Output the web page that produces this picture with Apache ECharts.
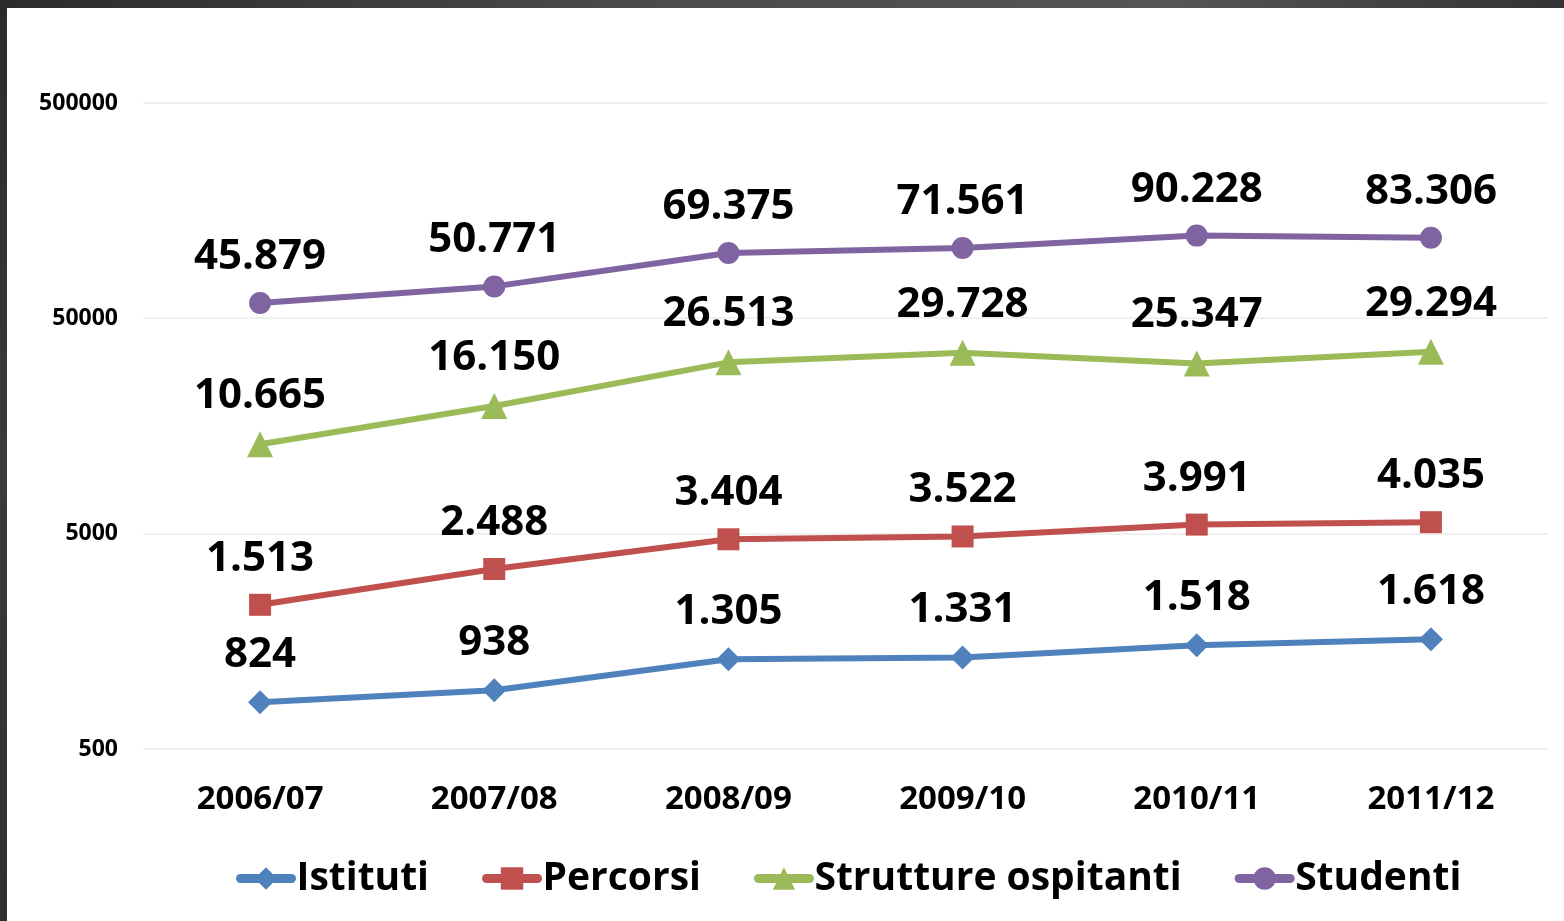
<!DOCTYPE html>
<html>
<head>
<meta charset="utf-8">
<script src="https://cdn.jsdelivr.net/npm/echarts@6/dist/echarts.min.js"></script>
<style>
html,body{margin:0;padding:0;background:#fff;}
#chart{position:absolute;left:0;top:0;width:1564px;height:921px;}
#topbar{position:absolute;left:0;top:0;width:1564px;height:8px;background:linear-gradient(90deg,#2b2b2b 0%,#4a4a4a 40%,#555 75%,#333 100%);z-index:2;}
#leftbar{position:absolute;left:0;top:0;width:7px;height:921px;background:linear-gradient(180deg,#2b2b2b 0%,#3a3a3a 50%,#2f2f2f 100%);z-index:2;}
</style>
</head>
<body>
<div id="chart"></div>
<div id="topbar"></div>
<div id="leftbar"></div>
<script>
const categories = ['2006/07','2007/08','2008/09','2009/10','2010/11','2011/12'];
const seriesNames = ['Istituti','Percorsi','Strutture ospitanti','Studenti'];
const istituti = [824, 938, 1305, 1331, 1518, 1618];
const percorsi = [1513, 2488, 3404, 3522, 3991, 4035];
const strutture = [10665, 16150, 26513, 29728, 25347, 29294];
const studenti = [45879, 50771, 69375, 71561, 90228, 83306];
const yTickLabels = [500, 5000, 50000, 500000];

const colors = ['#4f81bd','#c0504d','#9bbb59','#8064a2'];
const symbols = ['diamond','rect','triangle','circle'];
const symbolSizes = [24, 22, 26, 22];
const dataArrays = [istituti, percorsi, strutture, studenti];

function fmt(v){ return String(v).replace(/\B(?=(\d{3})+(?!\d))/g, '.'); }
const FONT = '"Open Sans", "DejaVu Sans", sans-serif';

const chart = echarts.init(document.getElementById('chart'));
chart.setOption({
  animation: false,
  color: colors,
  grid: {left: 143, right: 16, top: 103, bottom: 172, containLabel: false},
  legend: {
    bottom: 23,
    left: 236,
    padding: 0,
    itemWidth: 51,
    itemHeight: 28,
    itemGap: 53,
    lineStyle: {width: 9, cap: 'round'},
    textStyle: {fontFamily: FONT, fontWeight: 'bold', fontSize: 39, color: '#000'},
    data: seriesNames
  },
  xAxis: {
    type: 'category',
    data: categories,
    boundaryGap: true,
    axisLine: {show: false},
    axisTick: {show: false},
    axisLabel: {fontFamily: FONT, fontWeight: 'bold', fontSize: 33, color: '#000', margin: 34}
  },
  yAxis: {
    type: 'log',
    logBase: 10,
    min: 500,
    max: 500000,
    interval: 1,
    axisLine: {show: false},
    axisTick: {show: false},
    splitLine: {lineStyle: {color: '#f0f0f0', width: 2}},
    axisLabel: {
      fontFamily: FONT, fontWeight: 'bold', fontSize: 23, color: '#000', margin: 25,
      formatter: function(v){
        let best = yTickLabels[0];
        yTickLabels.forEach(t => { if (Math.abs(Math.log10(t) - Math.log10(v)) < Math.abs(Math.log10(best) - Math.log10(v))) best = t; });
        return String(best);
      }
    }
  },
  series: seriesNames.map((name, i) => ({
    name: name,
    type: 'line',
    stack: 'total',
    data: dataArrays[i],
    symbol: symbols[i],
    symbolSize: symbolSizes[i],
    showAllSymbol: true,
    lineStyle: {width: 6, color: colors[i]},
    itemStyle: {color: colors[i]},
    label: {
      show: true,
      position: 'top',
      distance: 14,
      fontFamily: FONT,
      fontWeight: 'bold',
      fontSize: 42,
      color: '#000',
      formatter: function(p){ return fmt(dataArrays[i][p.dataIndex]); }
    }
  }))
});
</script>
</body>
</html>
